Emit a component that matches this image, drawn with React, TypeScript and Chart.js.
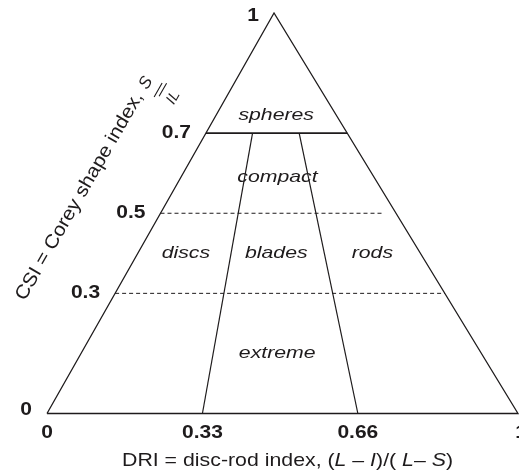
import React, { useEffect, useRef } from "react";
import { Chart, registerables } from "chart.js";

Chart.register(...registerables);

// ---- data ----
const CSI_TICKS = [0, 0.3, 0.5, 0.7, 1];
const CSI_TICK_LABELS = ["0", "0.3", "0.5", "0.7", "1"];
const DRI_TICKS = [0, 0.33, 0.66, 1];
const DRI_TICK_LABELS = ["0", "0.33", "0.66", "1"];

const CLASS_NAMES = ["spheres", "compact", "discs", "blades", "rods", "extreme"];
const CLASS_DRI = [0.5, 0.5, 0.17, 0.49, 0.83, 0.49];
const CLASS_CSI = [0.745, 0.59, 0.4, 0.4, 0.4, 0.15];

const SOLID_CSI = [0.7];
const DASHED_CSI = [0.5, 0.3];
const DASHED_DRI_END = [0.95, 1];
const DIVIDER_DRI = [0.33, 0.66];
const DIVIDER_CSI_TOP = [0.7, 0.7];
const APEX_DRI = 0.482;

const X_TITLE_RUNS: [string, boolean][] = [
  ["DRI = disc-rod index, (", false],
  ["L", true],
  [" \u2013 ", false],
  ["I", true],
  [")/( ", false],
  ["L", true],
  ["\u2013 ", false],
  ["S", true],
  [")", false],
];
const Y_TITLE_MAIN = "CSI = Corey shape index, ";
const Y_TITLE_NUM = "S";
const Y_TITLE_DEN = "IL";

// ---- helpers ----
const toPlane = (dri: number, csi: number) => ({
  x: dri * (1 - csi) + APEX_DRI * csi,
  y: csi,
});

const INK = "#1e1b1c";
const FAMILY = '"Liberation Sans", Arial, Helvetica, sans-serif';

function drawStretched(
  ctx: CanvasRenderingContext2D,
  text: string,
  x: number,
  y: number,
  font: string,
  sx: number,
  align: CanvasTextAlign
) {
  ctx.save();
  ctx.translate(x, y);
  ctx.scale(sx, 1);
  ctx.font = font;
  ctx.textAlign = align;
  ctx.textBaseline = "middle";
  ctx.fillStyle = INK;
  ctx.fillText(text, 0, 0);
  ctx.restore();
}

const textPlugin = {
  id: "triangleText",
  afterDatasetsDraw(chart: any) {
    const ctx: CanvasRenderingContext2D = chart.ctx;
    const xs = chart.scales.x;
    const ys = chart.scales.y;
    const px = (dri: number, csi: number) => {
      const p = toPlane(dri, csi);
      return { x: xs.getPixelForValue(p.x), y: ys.getPixelForValue(p.y) };
    };

    // class labels
    const italic = `italic 17px ${FAMILY}`;
    CLASS_NAMES.forEach((name, i) => {
      const p = px(CLASS_DRI[i], CLASS_CSI[i]);
      drawStretched(ctx, name, p.x, p.y, italic, 1.25, "center");
    });

    // CSI tick labels
    const bold = `bold 17.5px ${FAMILY}`;
    CSI_TICKS.forEach((v, i) => {
      const p = px(0, v);
      const yy = v === 0 ? p.y - 3 : v === 1 ? p.y + 3 : p.y;
      drawStretched(ctx, CSI_TICK_LABELS[i], p.x - 15, yy, bold, 1.2, "right");
    });

    // DRI tick labels
    DRI_TICKS.forEach((v, i) => {
      const p = px(v, 0);
      drawStretched(ctx, DRI_TICK_LABELS[i], p.x + (v === 1 ? 3 : 0), p.y + 19.5, bold, 1.2, "center");
    });

    // x title (mixed italics), fitted to width
    const fs = 19;
    ctx.save();
    let total = 0;
    const widths = X_TITLE_RUNS.map(([t, it]) => {
      ctx.font = `${it ? "italic " : ""}${fs}px ${FAMILY}`;
      const w = ctx.measureText(t).width;
      total += w;
      return w;
    });
    const targetW = 331;
    const sx = targetW / total;
    const cx = (xs.left + xs.right) / 2 + 5;
    const cy = ys.bottom + 47;
    ctx.translate(cx - targetW / 2, cy);
    ctx.scale(sx, 1);
    ctx.textAlign = "left";
    ctx.textBaseline = "middle";
    ctx.fillStyle = INK;
    let u = 0;
    X_TITLE_RUNS.forEach(([t, it], i) => {
      ctx.font = `${it ? "italic " : ""}${fs}px ${FAMILY}`;
      ctx.fillText(t, u, 0);
      u += widths[i];
    });
    ctx.restore();

    // y title, rotated along left edge
    const sPt = { x: 146, y: 83 };
    const ang = (-60 * Math.PI) / 180;
    ctx.save();
    ctx.translate(sPt.x, sPt.y);
    ctx.rotate(ang);
    ctx.fillStyle = INK;
    ctx.textBaseline = "middle";
    ctx.font = `19px ${FAMILY}`;
    const mw = ctx.measureText(Y_TITLE_MAIN).width;
    const mainLen = 243;
    ctx.save();
    ctx.translate(-7, -1);
    ctx.scale(mainLen / mw, 1);
    ctx.textAlign = "right";
    ctx.fillText(Y_TITLE_MAIN, 0, 0);
    ctx.restore();
    ctx.textAlign = "center";
    ctx.font = `italic 17px ${FAMILY}`;
    ctx.fillText(Y_TITLE_NUM, 0, 0);
    ctx.font = `italic 15px ${FAMILY}`;
    ctx.fillText(Y_TITLE_DEN, 1, 31);
    ctx.strokeStyle = INK;
    ctx.lineWidth = 1.1;
    ctx.beginPath();
    ctx.moveTo(-8, 14);
    ctx.lineTo(8, 14);
    ctx.moveTo(-5, 18);
    ctx.lineTo(10, 18);
    ctx.stroke();
    ctx.restore();
  },
};

export default function App() {
  const ref = useRef<HTMLCanvasElement | null>(null);

  useEffect(() => {
    if (!ref.current) return;
    const line = (pts: { x: number; y: number }[], width: number, dash: number[] = []) => ({
      data: pts,
      showLine: true,
      borderColor: INK,
      borderWidth: width,
      borderDash: dash,
      pointRadius: 0,
      pointHoverRadius: 0,
      fill: false,
      tension: 0,
      clip: false,
    });

    const datasets: any[] = [];
    // outline
    datasets.push(
      line([toPlane(0, 0), toPlane(1, 0), toPlane(0.5, 1), toPlane(0, 0)], 1.3)
    );
    SOLID_CSI.forEach((c) => datasets.push(line([toPlane(0, c), toPlane(1, c)], 1.7)));
    DASHED_CSI.forEach((c, i) =>
      datasets.push(line([toPlane(0, c), toPlane(DASHED_DRI_END[i], c)], 1, [4, 3]))
    );
    DIVIDER_DRI.forEach((d, i) =>
      datasets.push(line([toPlane(d, 0), toPlane(d, DIVIDER_CSI_TOP[i])], 1.2))
    );

    const chart = new Chart(ref.current, {
      type: "scatter",
      data: { datasets },
      options: {
        animation: false,
        responsive: true,
        maintainAspectRatio: false,
        devicePixelRatio: 1,
        layout: { padding: { left: 47, right: 1, top: 13, bottom: 61.5 } },
        scales: {
          x: { type: "linear", min: 0, max: 1, display: false },
          y: { type: "linear", min: 0, max: 1, display: false },
        },
        plugins: {
          legend: { display: false },
          tooltip: { enabled: false },
        },
        events: [],
      },
      plugins: [textPlugin],
    });
    return () => chart.destroy();
  }, []);

  return (
    <div style={{ position: "absolute", left: 0, top: 0, width: 519, height: 475, background: "#fff" }}>
      <canvas ref={ref} />
    </div>
  );
}
